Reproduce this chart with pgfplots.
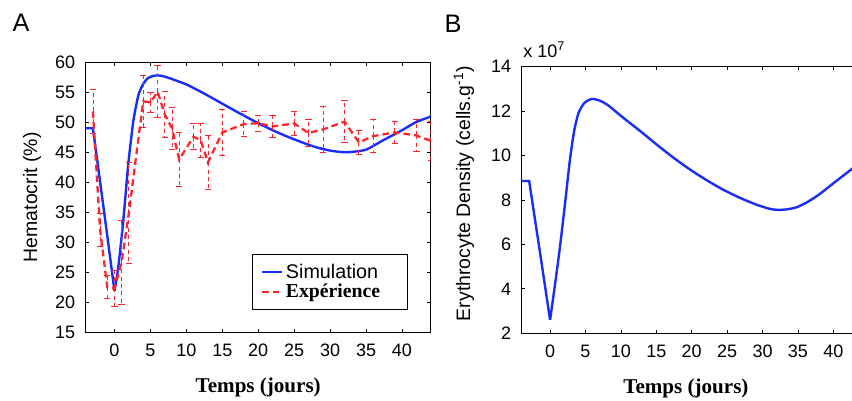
\documentclass[border=0pt]{standalone}
\usepackage{pgfplots}
\pgfplotsset{compat=1.18}
\usepackage{pgfplotstable}
\usepackage{fontspec}
\setmainfont{Liberation Sans}
\newfontfamily\tnr{Liberation Serif}
\definecolor{mblue}{RGB}{25,45,250}
\definecolor{mred}{RGB}{255,35,45}

\pgfplotstableread{
x y e
-3 51.8 3.6
-2 32.05 2.75
-1 22.5 1.9
0 22.3 3.0
1 26.7 7.0
2 34.9 8.4
4 53.5 4.3
5 53.3 1.7
6 55.1 4.3
7 51.3 3.9
8 49.0 3.5
9 43.8 4.5
11 47.6 2.2
12 47.0 2.8
13 43.3 4.55
15 48.3 3.8
18 49.7 2.1
20 49.85 1.35
22 49.3 1.8
25 49.8 2.0
27 48.2 2.2
29 48.8 3.8
32 50.1 3.5
34 46.65 2.05
36 47.7 2.7
39 48.3 1.85
42 47.8 2.65
44 46.9 3.3
}\expdata

\pgfplotstableread{
x y
-4 49.0
-3 49.0
-1.5 35.6
0 21.9
}\simAa

\pgfplotstableread{
x y
0 21.9
0.5 25.6
1.2 33.3
1.9 42.8
2.6 50.0
3.3 54.4
4.0 56.4
4.7 57.4
5.5 57.75
6.2 57.8
7.0 57.6
8.0 57.2
10 56.3
12.3 54.9
15 53.1
17.4 51.5
20 49.85
22.5 48.4
24.9 47.2
27.6 46.0
29.9 45.3
32.2 45.0
34.9 45.4
37.3 46.95
39.9 48.6
41.9 50.0
44 50.95
}\simAb

\pgfplotstableread{
x y
-4 8.85
-2.95 8.85
-1.5 5.8
0 2.6
}\simBa

\pgfplotstableread{
x y
0 2.6
0.7 4.2
1.4 5.9
2.1 7.8
2.8 9.8
3.4 11.1
4.0 11.9
4.8 12.35
5.6 12.52
6.2 12.54
7.0 12.47
8.1 12.28
10.4 11.68
12.8 11.08
15.1 10.48
17.5 9.88
19.8 9.36
22.2 8.87
24.5 8.45
26.9 8.08
29.2 7.78
31.0 7.6
32.25 7.55
33.5 7.58
34.8 7.67
36.3 7.9
38.0 8.25
40.0 8.75
42.6 9.39
44.0 9.72
}\simBb

\begin{document}
\begin{tikzpicture}
\pgfplotsset{
  base/.style={
    scale only axis, xmin=-4, xmax=44, xtick={0,5,...,40},
    tick align=inside, major tick length=2.6pt,
    axis line style={line width=0.9pt},
    every tick/.style={black, line width=0.6pt},
    tick label style={font=\fontsize{13.5}{16}\selectfont},
    xticklabel style={yshift=-5pt},
    yticklabel style={xshift=-4.5pt},
    /pgf/number format/assume math mode=true,
    label style={font=\fontsize{14.6}{17}\selectfont},
    xlabel style={font=\fontsize{15.8}{18}\selectfont\tnr\bfseries},
    clip=true,
  },
  simline/.style={mblue, line width=1.8pt},
}
\begin{axis}[base, at={(0,0)}, anchor=south west,
  width=258.75pt, height=202.5pt,
  ymin=15, ymax=60, ytick={15,20,...,60},
  xlabel={Temps (jours)}, ylabel={Hematocrit (\%)},
  xlabel style={at={(axis description cs:0.5,-0.2026)}, anchor=center},
  ylabel style={at={(axis description cs:-0.1557,0.5)}, anchor=center},
  legend style={at={(0.934,0.083)}, anchor=south east,
    font=\fontsize{14.8}{17}\selectfont, draw=black, line width=0.8pt,
    inner xsep=6pt, inner ysep=5pt, row sep=-1pt},
  legend cell align=left,
  legend image code/.code={\draw[#1] (0pt,0pt) -- (15pt,0pt);},
  extra description/.code={
    \node[font=\fontsize{19}{22}\selectfont] at (axis description cs:-0.1875,1.1456) {A};
  }]
\addplot[simline] table[x=x,y=y] {\simAa};
\addlegendentry{Simulation\hspace*{14pt}}
\addplot[simline, smooth, tension=0.4, forget plot] table[x=x,y=y] {\simAb};
\addplot[mred, line width=1.7pt, dash pattern=on 5pt off 3pt,
  error bars/.cd, y dir=both, y explicit,
  error bar style={line width=0.6pt, dash pattern=on 3pt off 2.5pt},
  error mark options={rotate=90, mark size=2.4pt, line width=0.6pt, solid}]
  table[x=x, y=y, y error=e] {\expdata};
\addlegendentry{\tnr\bfseries Expérience}
\end{axis}

\begin{axis}[base, at={(327pt,-0.75pt)}, anchor=south west,
  width=255pt, height=200pt,
  ymin=2, ymax=14, ytick={2,4,...,14},
  xlabel={Temps (jours)}, ylabel={Erythrocyte Density (cells.g\textsuperscript{-1})},
  xlabel style={at={(axis description cs:0.483,-0.205)}, anchor=center},
  ylabel style={at={(axis description cs:-0.170,0.524)}, anchor=center},
  extra description/.code={
    \node[font=\fontsize{19}{22}\selectfont] at (axis description cs:-0.202,1.1616) {B};
    \node[font=\fontsize{13.5}{16}\selectfont, anchor=base west, inner sep=0pt] at (axis description cs:0.004,1.036) {x 10\textsuperscript{7}};
  }]
\addplot[simline] table[x=x,y=y] {\simBa};
\addplot[simline, smooth, tension=0.4] table[x=x,y=y] {\simBb};
\end{axis}
\pgfresetboundingbox
\useasboundingbox (-64.3pt,-50.8pt) rectangle (574.7pt,249.2pt);
\end{tikzpicture}
\end{document}
